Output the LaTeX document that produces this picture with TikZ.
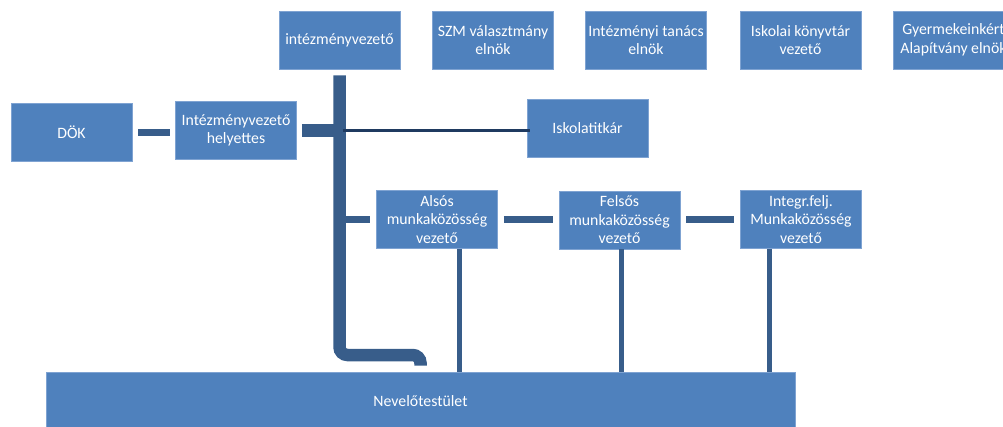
\documentclass[tikz,border=0pt]{standalone}
\usepackage{fontspec}
\setmainfont{Carlito}
\definecolor{boxblue}{HTML}{4F81BD}
\definecolor{boxedge}{HTML}{7FA3D2}
\definecolor{conn}{HTML}{385D8A}
\definecolor{darkconn}{HTML}{1F3A60}
\begin{document}
\begin{tikzpicture}[x=1pt,y=-1pt,
  orgbox/.style={rectangle, fill=boxblue, draw=boxedge, line width=0.6pt,
    minimum width=121pt, minimum height=58pt, inner sep=1pt,
    text=white, align=center, font=\fontsize{15.8}{18.5}\selectfont},
  thickconn/.style={draw=conn, line width=7pt},
  barconn/.style={draw=conn, line width=12.5pt},
  thinconn/.style={draw=darkconn, line width=3pt},
  dropconn/.style={draw=conn, line width=4.5pt}]
\useasboundingbox (0,0) rectangle (1003,426);
\clip (0,0) rectangle (1003,426);
% top row
\node[orgbox] (ivez) at (339.5,40) {intézményvezető};
\node[orgbox] (szm) at (493,40) {SZM választmány\\elnök};
\node[orgbox] (itan) at (646,40) {Intézményi tanács\\elnök};
\node[orgbox] (konyv) at (800.5,40) {Iskolai könyvtár\\vezető};
\node[orgbox] (alap) at (953.5,40) {Gyermekeinkért\\Alapítvány elnök};
% second row
\node[orgbox] (dok) at (71.5,132) {DÖK};
\node[orgbox] (hely) at (236,130.5) {Intézményvezető\\helyettes};
\node[orgbox] (titk) at (587.5,128) {Iskolatitkár};
% third row
\node[orgbox] (also) at (437,219.5) {Alsós\\munkaközösség\\vezető};
\node[orgbox] (felso) at (619.5,220) {Felsős\\munkaközösség\\vezető};
\node[orgbox] (integr) at (801,219.5) {Integr.felj.\\Munkaközösség\\vezető};
% bottom
\node[orgbox, minimum width=749pt] (nev) at (420.5,401) {Nevelőtestület};
% connectors
\coordinate (bartop) at ([yshift=-6pt]ivez.south);
\coordinate (barturn) at (bartop |- 0,355);
\coordinate (barend) at ([yshift=6pt]nev.north -| 420.5,0);
\draw[barconn, rounded corners=8pt] (bartop) -- (barturn) -- (barturn -| barend) -- (barend);
\draw[barconn] ([xshift=5]hely.east) -- (bartop |- hely.east);
\draw[thinconn] ([xshift=3]bartop |- 0,130) -- ([xshift=3]titk.west |- 0,130);
\draw[thickconn] ([xshift=6]dok.east) -- ([xshift=-5]hely.west |- dok.east);
\draw[thickconn] (bartop |- also.west) -- ([xshift=-6]also.west);
\draw[thickconn] ([xshift=6]also.east) -- ([xshift=-6]felso.west |- also.east);
\draw[thickconn] ([xshift=6]felso.east |- integr.west) -- ([xshift=-6]integr.west);
\draw[dropconn] ([xshift=22.5]also.south) -- ([xshift=22.5]also.south |- nev.north);
\draw[dropconn] ([xshift=2]felso.south) -- ([xshift=2]felso.south |- nev.north);
\draw[dropconn] ([xshift=-31.5]integr.south) -- ([xshift=-31.5]integr.south |- nev.north);
\end{tikzpicture}
\end{document}
